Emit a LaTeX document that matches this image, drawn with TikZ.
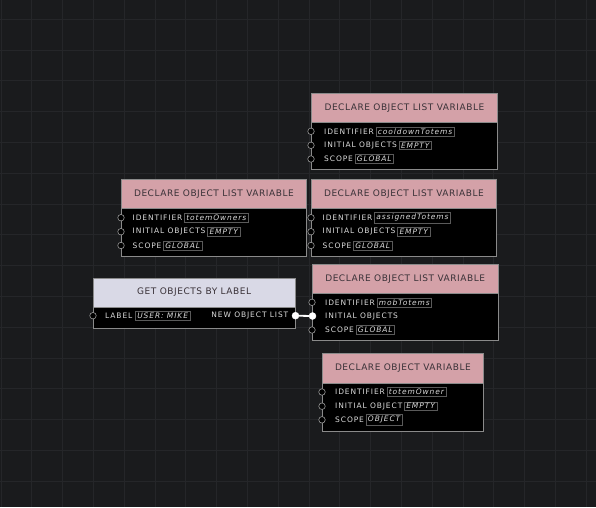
\documentclass[tikz,border=0pt]{standalone}
\usepackage{fontspec}
\usetikzlibrary{positioning}
\newfontfamily\uifont[LetterSpace=12]{DejaVu Sans}
\newfontfamily\uititle[LetterSpace=6]{DejaVu Sans}
\definecolor{bg}{HTML}{1A1B1D}
\definecolor{gridc}{HTML}{252629}
\definecolor{pinkh}{HTML}{D4A1A8}
\definecolor{lavh}{HTML}{D9D9E6}
\definecolor{titlec}{HTML}{3A3238}
\definecolor{rowc}{HTML}{DCDCDC}
\definecolor{edgec}{HTML}{8A8A8A}
\definecolor{valc}{HTML}{5A5A5A}
\tikzset{
  hdr/.style={fill=#1, draw=edgec, line width=0.8pt, anchor=north west, inner sep=0pt,
    font=\uititle\fontsize{9}{11}\selectfont, text=titlec},
  bodyb/.style={fill=black, draw=edgec, line width=0.8pt, anchor=north west, inner sep=0pt},
  rowl/.style={anchor=west, inner sep=0pt, text=rowc, font=\uifont\fontsize{7.5}{9}\selectfont},
  val/.style={anchor=west, inner xsep=2pt, inner ysep=1.6pt, draw=valc, line width=0.6pt, text=rowc,
    font=\uifont\itshape\fontsize{7.5}{9}\selectfont},
  port/.style={circle, draw=gray!80, fill=black, line width=0.6pt, minimum size=6.5pt, inner sep=0pt},
  portf/.style={circle, draw=white, fill=white, minimum size=7pt, inner sep=0pt},
  wire/.style={draw=white, line width=1.8pt}
}
\begin{document}
\begin{tikzpicture}[x=1pt,y=-1pt]
\fill[bg] (0,0) rectangle (596,507);
\useasboundingbox (0,0) rectangle (596,507);
\foreach \i in {0,...,19} {
  \draw[gridc, line width=1pt] ({1+30.8*\i},0) -- ({1+30.8*\i},507);
}
\foreach \j in {0,...,16} {
  \draw[gridc, line width=1pt] (0,{19.3+30.8*\j}) -- (596,{19.3+30.8*\j});
}
% ---------- Node 1: cooldownTotems
\node[bodyb, minimum width=186pt, minimum height=76pt] (b1) at (311,93) {};
\node[hdr=pinkh, minimum width=186pt, minimum height=29pt] (h1) at (311,93) {DECLARE OBJECT LIST VARIABLE};
\node[rowl] (l1a) at (324,131.3) {IDENTIFIER};
\node[val, right=1.5pt of l1a] (v1a) {cooldownTotems};
\node[rowl] (l1b) at (324,145.3) {INITIAL OBJECTS};
\node[val, right=1.5pt of l1b] (v1b) {EMPTY};
\node[rowl] (l1c) at (324,159) {SCOPE};
\node[val, right=1.5pt of l1c] (v1c) {GLOBAL};
\node[port] (p1a) at (311,131.3) {};
\node[port] (p1b) at (311,145.3) {};
\node[port] (p1c) at (311,159) {};
% ---------- Node 2: totemOwners
\node[bodyb, minimum width=185pt, minimum height=77pt] (b2) at (121,179) {};
\node[hdr=pinkh, minimum width=185pt, minimum height=29pt] (h2) at (121,179) {DECLARE OBJECT LIST VARIABLE};
\node[rowl] (l2a) at (132.5,217.7) {IDENTIFIER};
\node[val, right=1.5pt of l2a] (v2a) {totemOwners};
\node[rowl] (l2b) at (132.5,231.7) {INITIAL OBJECTS};
\node[val, right=1.5pt of l2b] (v2b) {EMPTY};
\node[rowl] (l2c) at (132.5,245.5) {SCOPE};
\node[val, right=1.5pt of l2c] (v2c) {GLOBAL};
\node[port] (p2a) at (121,217.7) {};
\node[port] (p2b) at (121,231.7) {};
\node[port] (p2c) at (121,245.5) {};
% ---------- Node 3: assignedTotems
\node[bodyb, minimum width=185pt, minimum height=77pt] (b3) at (311,179) {};
\node[hdr=pinkh, minimum width=185pt, minimum height=29pt] (h3) at (311,179) {DECLARE OBJECT LIST VARIABLE};
\node[rowl] (l3a) at (322.5,217.7) {IDENTIFIER};
\node[val, right=1.5pt of l3a] (v3a) {assignedTotems};
\node[rowl] (l3b) at (322.5,231.7) {INITIAL OBJECTS};
\node[val, right=1.5pt of l3b] (v3b) {EMPTY};
\node[rowl] (l3c) at (322.5,245.5) {SCOPE};
\node[val, right=1.5pt of l3c] (v3c) {GLOBAL};
\node[port] (p3a) at (311,217.7) {};
\node[port] (p3b) at (311,231.7) {};
\node[port] (p3c) at (311,245.5) {};
% ---------- Node 4: get objects by label
\node[bodyb, minimum width=202.5pt, minimum height=50pt] (b4) at (92.5,277.5) {};
\node[hdr=lavh, minimum width=202.5pt, minimum height=29pt] (h4) at (92.5,277.5) {GET OBJECTS BY LABEL};
\node[rowl] (l4a) at (105,315.7) {LABEL};
\node[val, right=2.5pt of l4a] (v4a) {USER: MIKE};
\node[rowl, anchor=east] (l4o) at (288.5,315.7) {NEW OBJECT LIST};
\node[port] (p4a) at (93,315.7) {};
% ---------- Node 5: mobTotems
\node[bodyb, minimum width=185.5pt, minimum height=76pt] (b5) at (312,264) {};
\node[hdr=pinkh, minimum width=185.5pt, minimum height=29.3pt] (h5) at (312,264) {DECLARE OBJECT LIST VARIABLE};
\node[rowl] (l5a) at (325,302.3) {IDENTIFIER};
\node[val, right=1.5pt of l5a] (v5a) {mobTotems};
\node[rowl] (l5b) at (325,316) {INITIAL OBJECTS};
\node[rowl] (l5c) at (325,330) {SCOPE};
\node[val, right=1.5pt of l5c] (v5c) {GLOBAL};
\node[port] (p5a) at (312,302.3) {};
\node[port] (p5c) at (312,330) {};
% ---------- Node 6: totemOwner
\node[bodyb, minimum width=161pt, minimum height=77.7pt] (b6) at (322,353) {};
\node[hdr=pinkh, minimum width=161pt, minimum height=30pt] (h6) at (322,353) {DECLARE OBJECT VARIABLE};
\node[rowl] (l6a) at (335,392) {IDENTIFIER};
\node[val, right=1.5pt of l6a] (v6a) {totemOwner};
\node[rowl] (l6b) at (335,406.2) {INITIAL OBJECT};
\node[val, right=1.5pt of l6b] (v6b) {EMPTY};
\node[rowl] (l6c) at (335,419.8) {SCOPE};
\node[val, right=1.5pt of l6c] (v6c) {OBJECT};
\node[port] (p6a) at (322,392) {};
\node[port] (p6b) at (322,406.2) {};
\node[port] (p6c) at (322,419.8) {};
% ---------- connector
\node[portf] (p4o) at (295.5,315.7) {};
\node[portf] (p5b) at (312.5,316) {};
\draw[wire] (p4o) -- (p5b);
\end{tikzpicture}
\end{document}
